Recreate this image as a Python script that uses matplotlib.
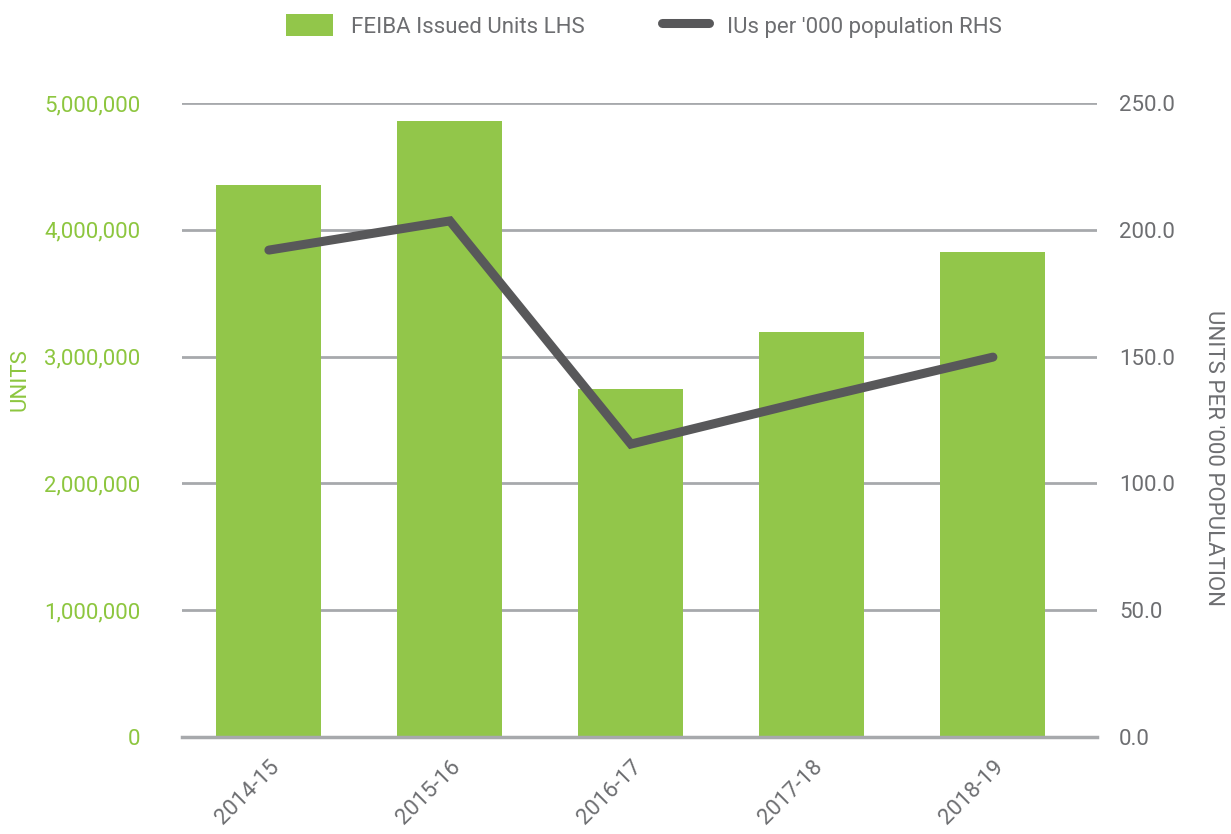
import matplotlib
matplotlib.use("Agg")
import matplotlib.pyplot as plt
from matplotlib.ticker import FuncFormatter

years = ["2014-15", "2015-16", "2016-17", "2017-18", "2018-19"]
units_issued = [4353000, 4860000, 2744000, 3196000, 3825000]
ius_per_000 = [192.0, 203.5, 115.5, 133.0, 149.8]
left_ticks = [0, 1000000, 2000000, 3000000, 4000000, 5000000]
right_ticks = [0, 50, 100, 150, 200, 250]

GREEN = "#92c64a"
GREEN_TXT = "#8dc63f"
DARK = "#58585a"
GRID = "#a7a9ac"
GREY_TXT = "#6d6e71"

plt.rcParams["font.family"] = ["Roboto", "DejaVu Sans"]

fig = plt.figure(figsize=(12.31, 8.34), dpi=100)
ax = fig.add_axes([182 / 1231, 1 - 737 / 834, (1097 - 182) / 1231, (737 - 103) / 834])
ax2 = ax.twinx()

x = list(range(len(years)))
bars = ax.bar(x, units_issued, width=0.58, color=GREEN, zorder=2,
              label="FEIBA Issued Units LHS")
line, = ax2.plot(x, ius_per_000, color=DARK, lw=6.5, solid_capstyle="round",
                 solid_joinstyle="miter", zorder=3,
                 label="IUs per '000 population RHS")

ax.set_xlim(-0.48, 4.575)
ax.set_ylim(0, 5000000)
ax2.set_ylim(0, 250)
ax.set_yticks(left_ticks)
ax2.set_yticks(right_ticks)
ax.yaxis.set_major_formatter(FuncFormatter(lambda v, p: f"{int(v):,}"))
ax2.yaxis.set_major_formatter(FuncFormatter(lambda v, p: f"{v:.1f}"))

ax.grid(axis="y", color=GRID, lw=2, zorder=0)
ax.set_axisbelow(True)
for a in (ax, ax2):
    for s in a.spines.values():
        s.set_visible(False)
ax.spines["bottom"].set_visible(True)
ax.spines["bottom"].set_color(GRID)
ax.spines["bottom"].set_linewidth(2.5)

ax.tick_params(axis="y", length=0, pad=30, labelsize=16, labelcolor=GREEN_TXT)
ax2.tick_params(axis="y", length=0, pad=16, labelsize=16, labelcolor=GREY_TXT)
ax.set_xticks(x)
ax.set_xticklabels(years, rotation=45, ha="right", rotation_mode="anchor",
                   fontsize=16, color=GREY_TXT)
ax.tick_params(axis="x", length=0, pad=14)

ax.set_ylabel("UNITS", color=GREEN_TXT, fontsize=16, va="center")
ax.yaxis.set_label_coords(-0.177, 0.563)
ax2.set_ylabel("UNITS PER '000 POPULATION", color=GREY_TXT, fontsize=16,
               rotation=-90, va="center")
ax2.yaxis.set_label_coords(1.127, 0.44)

fig.legend(handles=[bars, line], loc="center", ncol=2,
           bbox_to_anchor=(0.523, 1 - 26 / 834), frameon=False, fontsize=16,
           labelcolor=GREY_TXT, handlelength=2.1, handleheight=1.1,
           columnspacing=3.5)

fig.savefig("out.png", dpi=100)
